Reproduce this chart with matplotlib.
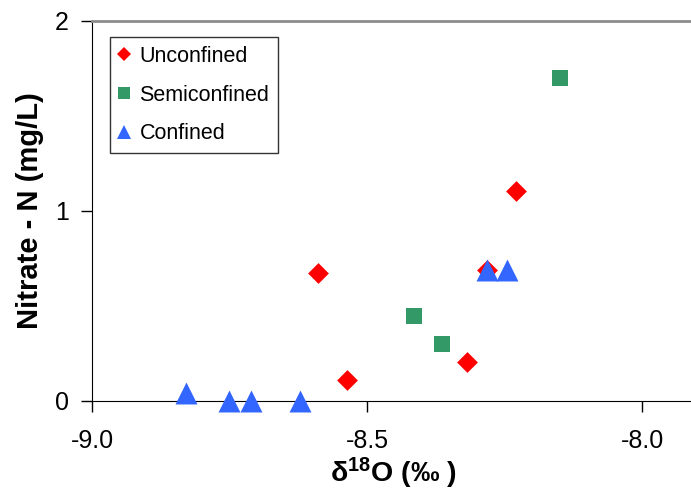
#!/usr/bin/env python3

import matplotlib

matplotlib.use("Agg")
import matplotlib.pyplot as plt
from matplotlib.lines import Line2D


# delta 18O (permil) and nitrate-N (mg/L) per aquifer type
unconfined_x = [-8.590, -8.537, -8.318, -8.281, -8.230]
unconfined_y = [0.674, 0.11, 0.205, 0.69, 1.105]

semiconfined_x = [-8.414, -8.363, -8.149]
semiconfined_y = [0.447, 0.30, 1.70]

confined_x = [-8.829, -8.750, -8.710, -8.621, -8.281, -8.245]
confined_y = [0.04, 0.0, 0.0, 0.0, 0.69, 0.69]

x_ticks = [-9.0, -8.5, -8.0]
x_tick_labels = ["-9.0", "-8.5", "-8.0"]
y_ticks = [0, 1, 2]

RED = "#ff0000"
GREEN = "#339966"
BLUE = "#3366ff"

plt.rcParams["font.family"] = ["Liberation Sans", "DejaVu Sans"]
plt.rcParams["mathtext.fontset"] = "custom"
plt.rcParams["mathtext.rm"] = "Liberation Sans"
plt.rcParams["mathtext.bf"] = "Liberation Sans:bold"

fig = plt.figure(figsize=(6.91, 4.91), dpi=100)
ax = fig.add_axes([0.1331, 0.1833, 0.8669, 0.774])

ax.scatter(unconfined_x, unconfined_y, marker="D", s=112, color=RED,
           linewidths=0, clip_on=False, zorder=3)
ax.scatter(semiconfined_x, semiconfined_y, marker="s", s=121, color=GREEN,
           linewidths=0, clip_on=False, zorder=3)
ax.scatter(confined_x, confined_y, marker="^", s=250, color=BLUE,
           linewidths=0, clip_on=False, zorder=4)

ax.set_xlim(-9.0, -7.911)
ax.set_ylim(0, 2)
ax.set_xticks(x_ticks)
ax.set_xticklabels(x_tick_labels)
ax.set_yticks(y_ticks)

ax.tick_params(axis="x", direction="out", length=8, width=1, pad=12, labelsize=18)
ax.tick_params(axis="y", direction="out", length=8, width=1, pad=8.5, labelsize=18)

ax.spines["right"].set_visible(False)
ax.spines["top"].set_color("#8c8c8c")
ax.spines["top"].set_linewidth(2)
ax.spines["left"].set_color("black")
ax.spines["bottom"].set_color("black")

ax.set_xlabel(r"δ$\mathbf{^{18}}$O (‰ )", fontsize=20.5, fontweight="bold")
ax.xaxis.set_label_coords(0.503, -0.143)
ax.set_ylabel("Nitrate - N (mg/L)", fontsize=21, fontweight="bold")
ax.yaxis.set_label_coords(-0.08, 0.5)

handles = [
    Line2D([], [], marker="D", linestyle="none", color=RED, markersize=7, markeredgewidth=0),
    Line2D([], [], marker="s", linestyle="none", color=GREEN, markersize=8.5, markeredgewidth=0),
    Line2D([], [], marker="^", linestyle="none", color=BLUE, markersize=9.5, markeredgewidth=0),
]
legend = ax.legend(
    handles,
    ["Unconfined", "Semiconfined", "Confined"],
    loc="upper left",
    bbox_to_anchor=(0.03, 0.958),
    borderaxespad=0,
    fontsize=15.5,
    frameon=True,
    fancybox=False,
    handlelength=0.45,
    handletextpad=0.5,
    labelspacing=0.82,
    borderpad=0.42,
)
legend.get_frame().set_edgecolor("black")
legend.get_frame().set_linewidth(1)

fig.savefig("out.png", dpi=100)
plt.close(fig)
